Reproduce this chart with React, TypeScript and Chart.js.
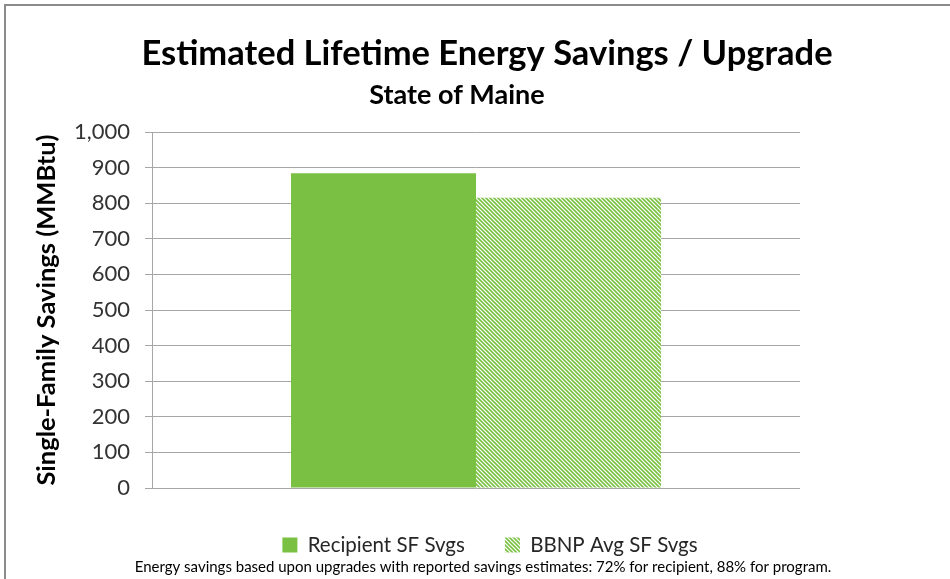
import React, { useEffect, useRef } from "react";
import { Chart, registerables } from "chart.js";

Chart.register(...registerables);

const categories = [""];
const seriesNames = ["Recipient SF Svgs", "BBNP Avg SF Svgs"];
const recipientValues = [884];
const bbnpValues = [815];
const yTickValues = [0, 100, 200, 300, 400, 500, 600, 700, 800, 900, 1000];

const titleText = "Estimated Lifetime Energy Savings / Upgrade";
const subtitleText = "State of Maine";
const yAxisTitle = "Single-Family Savings (MMBtu)";
const footnoteText =
  "Energy savings based upon upgrades with reported savings estimates: 72% for recipient, 88% for program.";

const GREEN = "#7ac143";
const FONT = "Lato, 'Open Sans', sans-serif";

function makeHatch(): CanvasPattern | string {
  const s = 4;
  const c = document.createElement("canvas");
  c.width = s;
  c.height = s;
  const g = c.getContext("2d");
  if (!g) return GREEN;
  g.fillStyle = "#ffffff";
  g.fillRect(0, 0, s, s);
  g.strokeStyle = GREEN;
  g.lineWidth = 1.6;
  g.beginPath();
  g.moveTo(-1, -1);
  g.lineTo(s + 1, s + 1);
  g.moveTo(-1, s - 1);
  g.lineTo(1, s + 1);
  g.moveTo(s - 1, -1);
  g.lineTo(s + 1, 1);
  g.stroke();
  const p = g.createPattern(c, "repeat");
  return p || GREEN;
}

const decorPlugin = {
  id: "decor",
  beforeDraw(chart: any) {
    const ctx = chart.ctx;
    ctx.save();
    ctx.fillStyle = "#ffffff";
    ctx.fillRect(0, 0, chart.width, chart.height);
    ctx.strokeStyle = "#8c8c8c";
    ctx.lineWidth = 2;
    ctx.beginPath();
    ctx.moveTo(5, chart.height);
    ctx.lineTo(5, 5);
    ctx.lineTo(chart.width, 5);
    ctx.stroke();
    ctx.restore();
  },
  afterDraw(chart: any) {
    const ctx = chart.ctx;
    ctx.save();
    ctx.textAlign = "center";
    ctx.textBaseline = "middle";
    ctx.fillStyle = "#000000";
    ctx.font = `bold 34.5px ${FONT}`;
    ctx.fillText(titleText, 487, 54);
    ctx.font = `bold 27px ${FONT}`;
    ctx.fillText(subtitleText, 457, 95);
    ctx.font = `15px ${FONT}`;
    ctx.fillStyle = "#000000";
    ctx.fillText(footnoteText, 483, 567);
    ctx.restore();
  },
};

export default function App() {
  const ref = useRef<HTMLCanvasElement | null>(null);

  useEffect(() => {
    if (!ref.current) return;
    const hatch = makeHatch();
    const chart = new Chart(ref.current, {
      type: "bar",
      data: {
        labels: categories,
        datasets: [
          {
            label: seriesNames[0],
            data: recipientValues,
            backgroundColor: GREEN,
            borderWidth: 0,
            categoryPercentage: 0.571,
            barPercentage: 1,
          },
          {
            label: seriesNames[1],
            data: bbnpValues,
            backgroundColor: hatch as any,
            borderWidth: 0,
            categoryPercentage: 0.571,
            barPercentage: 1,
          },
        ],
      },
      options: {
        animation: false,
        responsive: false,
        maintainAspectRatio: false,
        layout: { padding: { top: 132, left: 30, right: 0, bottom: 13.75 } },
        plugins: {
          title: { display: false },
          tooltip: { enabled: false },
          legend: {
            display: true,
            position: "bottom",
            labels: {
              font: { family: FONT, size: 20.5 },
              color: "#262626",
              boxWidth: 15,
              boxHeight: 15,
              padding: 40,
            },
          },
        },
        scales: {
          x: {
            display: true,
            ticks: { display: false },
            grid: { display: false, drawTicks: false },
            border: { display: false },
            afterFit(scale: any) {
              scale.height = 6.75;
            },
          },
          y: {
            min: 0,
            max: 1000,
            afterBuildTicks(scale: any) {
              scale.ticks = yTickValues.map((v) => ({ value: v }));
            },
            ticks: {
              font: { family: FONT, size: 22 },
              color: "#333333",
              padding: 15,
              callback: (v: any) => Number(v).toLocaleString("en-US"),
            },
            grid: {
              color: "#a6a6a6",
              lineWidth: 1,
              tickLength: 7,
              drawTicks: true,
            },
            border: { display: true, color: "#a6a6a6", width: 1 },
            title: {
              display: true,
              text: yAxisTitle,
              font: { family: FONT, size: 25.5, weight: "bold" },
              color: "#000000",
              padding: { top: 1.7, bottom: 0 },
            },
            afterFit(scale: any) {
              scale.width = 122;
            },
          },
          y2: {
            position: "right",
            display: true,
            ticks: { display: false },
            grid: { display: false, drawTicks: false },
            border: { display: false },
            afterFit(scale: any) {
              scale.width = 150;
            },
          },
        },
      } as any,
      plugins: [decorPlugin],
    });
    return () => chart.destroy();
  }, []);

  return (
    <div style={{ position: "fixed", left: 0, top: 0, width: 950, height: 579 }}>
      <canvas ref={ref} width={950} height={579} style={{ display: "block" }} />
    </div>
  );
}
